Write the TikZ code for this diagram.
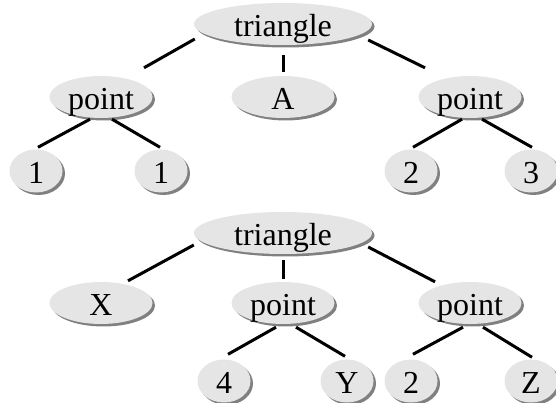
\documentclass[tikz,border=0pt]{standalone}
\usepackage{fontspec}
\setmainfont{Liberation Serif}
\usepackage{xcolor}
\usetikzlibrary{shapes.geometric,shadows}

\definecolor{termgray}{RGB}{229,229,229}

\begin{document}
\begin{tikzpicture}[
    x=1pt, y=1pt,
    term/.style={ellipse, fill=termgray, inner sep=0pt,
        text height=26pt, text depth=0pt, minimum height=42pt,
        font=\fontsize{32}{36}\selectfont,
        drop shadow={shadow xshift=2.5pt, shadow yshift=-2.5pt, fill=black!50, opacity=1}},
    root/.style={term, minimum width=178pt},
    mid/.style={term, minimum width=103pt},
    leaf/.style={term, minimum width=53pt, minimum height=43pt},
    branch/.style={line width=3pt}
]
    \useasboundingbox (0,0) rectangle (556,403);

    % first tree
    \node[root] (t1) at (283,379) {triangle};
    \node[mid] (p1) at (101,306) {point};
    \node[mid] (a1) at (283,306) {A};
    \node[mid] (q1) at (470,306) {point};
    \node[leaf] (l11) at (36,232) {1};
    \node[leaf] (l12) at (161,232) {1};
    \node[leaf] (l13) at (411,232) {2};
    \node[leaf] (l14) at (531,232) {3};

    \draw[branch] ([xshift=1pt,yshift=-15pt]t1.west) -- ([xshift=43pt,yshift=8pt]p1.north);
    \draw[branch] ([yshift=-10pt]t1.south) -- ([yshift=4pt]a1.north);
    \draw[branch] ([xshift=-4pt,yshift=-16pt]t1.east) -- ([xshift=-45pt,yshift=8pt]q1.north);
    \draw[branch] ([xshift=-11pt,yshift=-1pt]p1.south) -- ([xshift=2pt,yshift=2pt]l11.north);
    \draw[branch] ([xshift=11pt,yshift=-1pt]p1.south) -- ([xshift=-1pt,yshift=2pt]l12.north);
    \draw[branch] ([xshift=-8pt,yshift=-1pt]q1.south) -- ([xshift=2pt,yshift=2pt]l13.north);
    \draw[branch] ([xshift=12pt,yshift=-1pt]q1.south) -- ([xshift=1pt,yshift=2pt]l14.north);

    % second tree
    \node[root] (t2) at (283,170) {triangle};
    \node[mid] (x2) at (101,100) {X};
    \node[mid] (p2) at (283,100) {point};
    \node[mid] (q2) at (470,100) {point};
    \node[leaf] (l21) at (224,22) {4};
    \node[leaf] (l22) at (347,22) {Y};
    \node[leaf] (l23) at (411,22) {2};
    \node[leaf] (l24) at (531,22) {Z};

    \draw[branch] ([yshift=-12pt]t2.west) -- ([xshift=27pt,yshift=1pt]x2.north);
    \draw[branch] ([yshift=-6pt]t2.south) -- ([yshift=3pt]p2.north);
    \draw[branch] ([xshift=-4pt,yshift=-14pt]t2.east) -- ([xshift=-35pt]q2.north);
    \draw[branch] ([xshift=-7pt,yshift=-3pt]p2.south) -- ([xshift=4pt,yshift=5pt]l21.north);
    \draw[branch] ([xshift=13pt,yshift=-3pt]p2.south) -- ([xshift=-2pt,yshift=3pt]l22.north);
    \draw[branch] ([xshift=-7pt,yshift=-3pt]q2.south) -- ([xshift=2pt,yshift=5pt]l23.north);
    \draw[branch] ([xshift=13pt,yshift=-3pt]q2.south) -- ([xshift=1pt,yshift=2pt]l24.north);
\end{tikzpicture}
\end{document}
